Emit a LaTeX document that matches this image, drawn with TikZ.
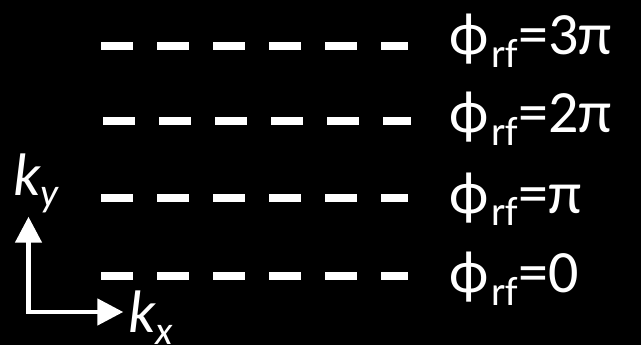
\documentclass[tikz,border=0pt]{standalone}
\usepackage{fontspec}
\setmainfont{Carlito}
\usepackage{tikz}
\usetikzlibrary{arrows.meta,positioning}
\newcommand{\phase}[1]{ϕ\kern3pt\raisebox{-13pt}{\fontsize{41}{44}\selectfont rf}=#1}
\newcommand{\wavevec}[1]{\textit{k\raisebox{-12pt}{\fontsize{40}{42}\selectfont #1}}}

\begin{document}
\begin{tikzpicture}[x=1pt,y=-1pt,
    front/.style={white, line width=8pt, dash pattern=on 32pt off 24pt},
    label/.style={white, anchor=base west, inner sep=0pt, font=\fontsize{60}{62}\selectfont},
    axis/.style={white, line width=4.7pt, line join=miter,
      {Triangle[length=26pt,width=26pt]}-{Triangle[length=26pt,width=26pt]}}]
  % Background
  \fill[black] (0,0) rectangle (641,345);
  \useasboundingbox (0,0) rectangle (641,345);
  % Phase fronts
  \node[label] (p3) at (449,55) {\phase{3π}};
  \node[label] (p2) at (449,133) {\phase{2π}};
  \node[label] (p1) at (449,213) {\phase{π}};
  \node[label] (p0) at (449,292) {\phase{0}};
  \draw[front] (101,46) -- (408,46);
  \draw[front] (103,121) -- (411,121);
  \draw[front] (101,198) -- (408,198);
  \draw[front] (101,276) -- (408,276);
  % Axes
  \coordinate (ytip) at (28.5,216.7);
  \coordinate (xtip) at (123.3,312);
  \draw[axis] (ytip) |- (xtip);
  \node[label] (ky) at (13,195) {\wavevec{y}};
  \node[label] (kx) at (128,332) {\wavevec{x}};
\end{tikzpicture}
\end{document}
